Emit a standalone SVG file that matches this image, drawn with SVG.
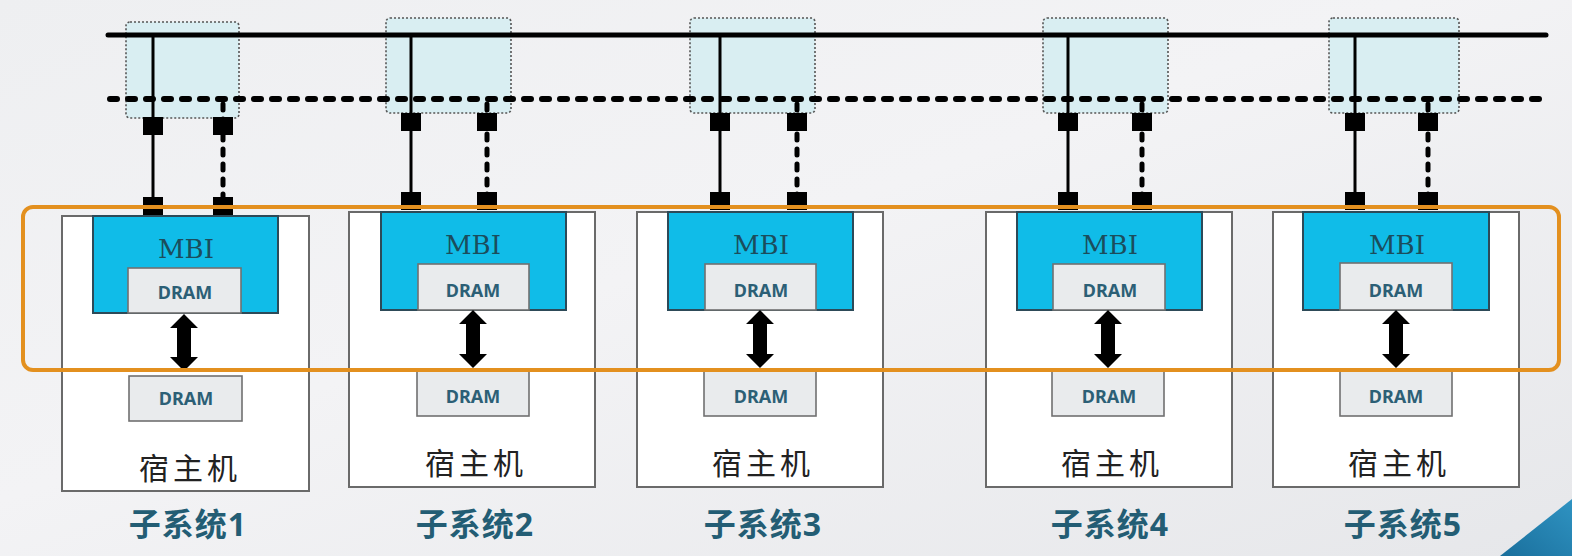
<svg xmlns="http://www.w3.org/2000/svg" width="1572" height="556" viewBox="0 0 1572 556">
  <defs>
    <linearGradient id="bg" x1="0" y1="0" x2="1" y2="1">
      <stop offset="0" stop-color="#eeeff1"/>
      <stop offset="0.45" stop-color="#f3f3f5"/>
      <stop offset="1" stop-color="#e6e7ea"/>
    </linearGradient>
    <linearGradient id="tri" x1="0" y1="1" x2="1" y2="0">
      <stop offset="0" stop-color="#1a6f9c"/>
      <stop offset="1" stop-color="#2f93c2"/>
    </linearGradient>
    <style>
      .host{fill:#ffffff;stroke:#6a6a6a;stroke-width:2}
      .mbi{fill:#10bce8;stroke:#2d4a58;stroke-width:2}
      .dram{fill:#e9ebed;stroke:#707070;stroke-width:1.6}
      .zone{fill:#d9eef2;stroke:#555;stroke-width:1.6;stroke-dasharray:2 2}
      .bus{stroke:#000;stroke-width:5;stroke-linecap:round;fill:none}
      .dbus{stroke:#000;stroke-width:6;stroke-linecap:round;stroke-dasharray:7 11;fill:none}
      .sline{stroke:#000;stroke-width:3;fill:none}
      .dline{stroke:#000;stroke-width:5;stroke-linecap:round;stroke-dasharray:6 9;fill:none}
      .sq{fill:#000}
      .arrow{fill:#000}
      .mbit{font-family:"DejaVu Serif","Liberation Serif",serif;font-size:26px;fill:#1b4d5c;text-anchor:middle}
      .dt{font-family:"Noto Sans","Open Sans",sans-serif;font-weight:bold;font-size:18px;fill:#2c5f76;text-anchor:middle}
      .ht{font-family:"Noto Sans CJK SC",sans-serif;font-size:30px;fill:#222;text-anchor:middle;letter-spacing:4px}
      .lt{font-family:"Noto Sans","Noto Sans CJK SC",sans-serif;font-weight:bold;font-size:32px;fill:#235d74;text-anchor:middle;letter-spacing:1px}
      .orange{fill:none;stroke:#e3901f;stroke-width:4}
    </style>
  </defs>

  <rect x="0" y="0" width="1572" height="556" fill="url(#bg)"/>
  <polygon points="1500,556 1572,499 1572,556" fill="url(#tri)"/>

  <!-- shared zones under bus -->
  <g id="zones">
    <rect class="zone" x="126" y="22" width="113" height="96" rx="4"/>
    <rect class="zone" x="386" y="18" width="125" height="95" rx="4"/>
    <rect class="zone" x="690" y="18" width="125" height="95" rx="4"/>
    <rect class="zone" x="1043" y="18" width="125" height="95" rx="4"/>
    <rect class="zone" x="1329" y="18" width="130" height="95" rx="4"/>
  </g>

  <!-- subsystem 1 -->
  <g id="sub1">
    <rect class="host" x="62" y="216" width="247" height="275"/>
    <rect class="mbi" x="93" y="216" width="185" height="97"/>
    <text class="mbit" x="186" y="258">MBI</text>
    <rect class="dram" x="128" y="268" width="113" height="45"/>
    <text class="dt" x="185" y="299">DRAM</text>
    <rect class="dram" x="129" y="376" width="113" height="45"/>
    <text class="dt" x="186" y="405">DRAM</text>
    <text class="ht" x="190" y="479">宿主机</text>
    <text class="lt" x="188" y="536">子系统1</text>
  </g>

  <!-- subsystem 2 -->
  <g id="sub2">
    <rect class="host" x="349" y="212" width="246" height="275"/>
    <rect class="mbi" x="381" y="212" width="185" height="98"/>
    <text class="mbit" x="473" y="254">MBI</text>
    <rect class="dram" x="418" y="264" width="111" height="46"/>
    <text class="dt" x="473" y="297">DRAM</text>
    <rect class="dram" x="417" y="371" width="112" height="45"/>
    <text class="dt" x="473" y="403">DRAM</text>
    <text class="ht" x="476" y="474">宿主机</text>
    <text class="lt" x="475" y="536">子系统2</text>
  </g>

  <!-- subsystem 3 -->
  <g id="sub3">
    <rect class="host" x="637" y="212" width="246" height="275"/>
    <rect class="mbi" x="668" y="212" width="185" height="98"/>
    <text class="mbit" x="761" y="254">MBI</text>
    <rect class="dram" x="705" y="264" width="111" height="46"/>
    <text class="dt" x="761" y="297">DRAM</text>
    <rect class="dram" x="704" y="371" width="112" height="45"/>
    <text class="dt" x="761" y="403">DRAM</text>
    <text class="ht" x="763" y="474">宿主机</text>
    <text class="lt" x="763" y="536">子系统3</text>
  </g>

  <!-- subsystem 4 -->
  <g id="sub4">
    <rect class="host" x="986" y="212" width="246" height="275"/>
    <rect class="mbi" x="1017" y="212" width="185" height="98"/>
    <text class="mbit" x="1110" y="254">MBI</text>
    <rect class="dram" x="1053" y="264" width="112" height="46"/>
    <text class="dt" x="1110" y="297">DRAM</text>
    <rect class="dram" x="1052" y="371" width="112" height="45"/>
    <text class="dt" x="1109" y="403">DRAM</text>
    <text class="ht" x="1112" y="474">宿主机</text>
    <text class="lt" x="1110" y="536">子系统4</text>
  </g>

  <!-- subsystem 5 -->
  <g id="sub5">
    <rect class="host" x="1273" y="212" width="246" height="275"/>
    <rect class="mbi" x="1303" y="212" width="186" height="98"/>
    <text class="mbit" x="1397" y="254">MBI</text>
    <rect class="dram" x="1340" y="263" width="112" height="47"/>
    <text class="dt" x="1396" y="297">DRAM</text>
    <rect class="dram" x="1340" y="371" width="112" height="45"/>
    <text class="dt" x="1396" y="403">DRAM</text>
    <text class="ht" x="1399" y="474">宿主机</text>
    <text class="lt" x="1403" y="536">子系统5</text>
  </g>

  <!-- connectors -->
  <g id="connectors">
    <line class="bus" x1="108" y1="35" x2="1546" y2="35"/>
    <line class="dbus" x1="110" y1="99" x2="1546" y2="99"/>

    <!-- sub1 -->
    <line class="sline" x1="153" y1="35" x2="153" y2="206"/>
    <line class="dline" x1="223" y1="104" x2="223" y2="206"/>
    <rect class="sq" x="143" y="117" width="20" height="18"/>
    <rect class="sq" x="213" y="117" width="20" height="18"/>
    <rect class="sq" x="143" y="197" width="20" height="18"/>
    <rect class="sq" x="213" y="197" width="20" height="18"/>
    <!-- sub2 -->
    <line class="sline" x1="411" y1="35" x2="411" y2="201"/>
    <line class="dline" x1="487" y1="104" x2="487" y2="201"/>
    <rect class="sq" x="401" y="113" width="20" height="18"/>
    <rect class="sq" x="477" y="113" width="20" height="18"/>
    <rect class="sq" x="401" y="192" width="20" height="18"/>
    <rect class="sq" x="477" y="192" width="20" height="18"/>
    <!-- sub3 -->
    <line class="sline" x1="720" y1="35" x2="720" y2="201"/>
    <line class="dline" x1="797" y1="104" x2="797" y2="201"/>
    <rect class="sq" x="710" y="113" width="20" height="18"/>
    <rect class="sq" x="787" y="113" width="20" height="18"/>
    <rect class="sq" x="710" y="192" width="20" height="18"/>
    <rect class="sq" x="787" y="192" width="20" height="18"/>
    <!-- sub4 -->
    <line class="sline" x1="1068" y1="35" x2="1068" y2="201"/>
    <line class="dline" x1="1142" y1="104" x2="1142" y2="201"/>
    <rect class="sq" x="1058" y="113" width="20" height="18"/>
    <rect class="sq" x="1132" y="113" width="20" height="18"/>
    <rect class="sq" x="1058" y="192" width="20" height="18"/>
    <rect class="sq" x="1132" y="192" width="20" height="18"/>
    <!-- sub5 -->
    <line class="sline" x1="1355" y1="35" x2="1355" y2="201"/>
    <line class="dline" x1="1428" y1="104" x2="1428" y2="201"/>
    <rect class="sq" x="1345" y="113" width="20" height="18"/>
    <rect class="sq" x="1418" y="113" width="20" height="18"/>
    <rect class="sq" x="1345" y="192" width="20" height="18"/>
    <rect class="sq" x="1418" y="192" width="20" height="18"/>

    <!-- double arrows DRAM <-> DRAM -->
    <path class="arrow" d="M184,314 L198,328 L191,328 L191,357 L198,357 L184,371 L170,357 L177,357 L177,328 L170,328 Z"/>
    <path class="arrow" d="M473,310 L487,324 L480,324 L480,354 L487,354 L473,368 L459,354 L466,354 L466,324 L459,324 Z"/>
    <path class="arrow" d="M760,310 L774,324 L767,324 L767,354 L774,354 L760,368 L746,354 L753,354 L753,324 L746,324 Z"/>
    <path class="arrow" d="M1108,310 L1122,324 L1115,324 L1115,354 L1122,354 L1108,368 L1094,354 L1101,354 L1101,324 L1094,324 Z"/>
    <path class="arrow" d="M1396,310 L1410,324 L1403,324 L1403,354 L1410,354 L1396,368 L1382,354 L1389,354 L1389,324 L1382,324 Z"/>
  </g>

  <!-- highlight frame -->
  <g id="highlight">
    <rect class="orange" x="23" y="207" width="1536" height="163" rx="10"/>
  </g>
</svg>
